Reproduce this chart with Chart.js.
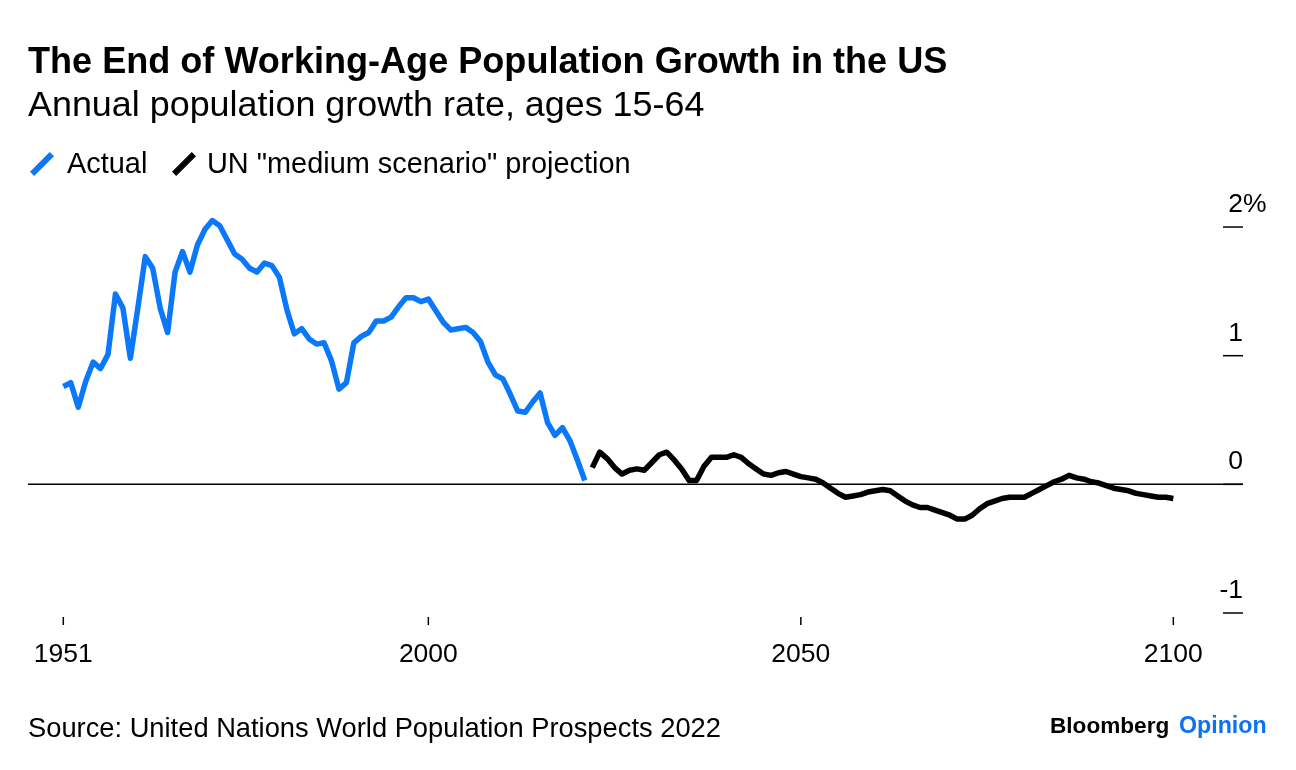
<!DOCTYPE html>
<html>
<head>
<meta charset="utf-8">
<script src="https://cdn.jsdelivr.net/npm/chart.js@4.4.1/dist/chart.umd.min.js"></script>
<style>
  html, body { margin: 0; padding: 0; background: #fff; }
  #wrap { position: relative; width: 1296px; height: 770px; overflow: hidden; font-family: "Liberation Sans", Arial, sans-serif; color: #000; }
  #wrap canvas { position: absolute; left: 0; top: 0; }
  .t { position: absolute; white-space: nowrap; line-height: 1; }
  .slash { position: absolute; width: 6px; height: 28px; transform: rotate(45deg); }
</style>
</head>
<body>
<div id="wrap">
  <canvas id="c" width="1296" height="770"></canvas>
  <div class="t" style="left:28px; top:43.4px; font-size:36.1px; font-weight:bold;">The End of Working-Age Population Growth in the US</div>
  <div class="t" style="left:28px; top:86.6px; font-size:35.9px;">Annual population growth rate, ages 15-64</div>
  <div class="slash" style="left:38.5px; top:149.5px; background:#0b78fa;"></div>
  <div class="t" style="left:67px; top:148.5px; font-size:28.9px;">Actual</div>
  <div class="slash" style="left:181px; top:149.5px; background:#000;"></div>
  <div class="t" style="left:207px; top:148.5px; font-size:28.9px;">UN "medium scenario" projection</div>
  <div class="t" style="left:28px; top:713.9px; font-size:27.3px;">Source: United Nations World Population Prospects 2022</div>
  <div class="t" style="left:1050px; top:714.5px; font-size:22.6px; font-weight:bold;">Bloomberg</div>
  <div class="t" style="left:1179px; top:714.0px; font-size:23.2px; font-weight:bold; color:#0b72f5;">Opinion</div>
</div>
<script>
// ---- Data ----
const actualStartYear = 1951;
const actualValues = [
  0.76, 0.79, 0.60, 0.80, 0.95, 0.90, 1.01, 1.48, 1.37, 0.98,
  1.37, 1.77, 1.68, 1.37, 1.18, 1.65, 1.81, 1.65, 1.86, 1.98,
  2.05, 2.01, 1.90, 1.79, 1.75, 1.68, 1.65, 1.72, 1.70, 1.61,
  1.36, 1.17, 1.21, 1.13, 1.09, 1.10, 0.96, 0.74, 0.79, 1.10,
  1.15, 1.18, 1.27, 1.27, 1.30, 1.38, 1.45, 1.45, 1.42, 1.44,
  1.35, 1.26, 1.20, 1.21, 1.22, 1.18, 1.11, 0.95, 0.85, 0.82,
  0.70, 0.57, 0.56, 0.64, 0.71, 0.48, 0.38, 0.44, 0.34, 0.19,
  0.03
];
const projectionStartYear = 2022;
const projectionValues = [
  0.13, 0.25, 0.20, 0.13, 0.08, 0.11, 0.12, 0.11, 0.17, 0.23,
  0.25, 0.19, 0.12, 0.03, 0.03, 0.14, 0.21, 0.21, 0.21, 0.23,
  0.21, 0.16, 0.12, 0.08, 0.07, 0.09, 0.10, 0.08, 0.06, 0.05,
  0.04, 0.01, -0.03, -0.07, -0.10, -0.09, -0.08, -0.06, -0.05, -0.04,
  -0.05, -0.09, -0.13, -0.16, -0.18, -0.18, -0.20, -0.22, -0.24, -0.27,
  -0.27, -0.24, -0.19, -0.15, -0.13, -0.11, -0.10, -0.10, -0.10, -0.07,
  -0.04, -0.01, 0.02, 0.04, 0.07, 0.05, 0.04, 0.02, 0.01, -0.01,
  -0.03, -0.04, -0.05, -0.07, -0.08, -0.09, -0.10, -0.10, -0.11
];
const xTickYears = [1951, 2000, 2050, 2100];
const yTickValues = [2, 1, 0, -1];
const yTickLabels = ["2", "1", "0", "-1"];

const actualPoints = actualValues.map((v, i) => ({ x: actualStartYear + i, y: v }));
const projectionPoints = projectionValues.map((v, i) => ({ x: projectionStartYear + i, y: v }));

const FONT = '"Liberation Sans", Arial, sans-serif';

const axesPlugin = {
  id: 'bbgAxes',
  beforeDatasetsDraw(chart) {
    const { ctx, chartArea, scales } = chart;
    const y0 = scales.y.getPixelForValue(0);
    ctx.save();
    ctx.strokeStyle = '#000';
    ctx.lineWidth = 1.5;
    ctx.beginPath();
    ctx.moveTo(chartArea.left, y0);
    ctx.lineTo(chartArea.right, y0);
    ctx.stroke();
    ctx.restore();
  },
  afterDraw(chart) {
    const { ctx, chartArea, scales } = chart;
    ctx.save();
    ctx.strokeStyle = '#000';
    ctx.fillStyle = '#000';
    ctx.lineWidth = 1.5;
    ctx.font = '26.5px ' + FONT;
    yTickValues.forEach((v, i) => {
      const py = scales.y.getPixelForValue(v);
      ctx.beginPath();
      ctx.moveTo(chartArea.right - 20, py);
      ctx.lineTo(chartArea.right, py);
      ctx.stroke();
      ctx.textAlign = 'right';
      ctx.textBaseline = 'alphabetic';
      ctx.fillText(yTickLabels[i], chartArea.right, py - 15);
      if (i === 0) {
        ctx.textAlign = 'left';
        ctx.fillText('%', chartArea.right, py - 15);
      }
    });
    const bottom = scales.y.getPixelForValue(-1);
    xTickYears.forEach(yr => {
      const px = scales.x.getPixelForValue(yr);
      ctx.beginPath();
      ctx.moveTo(px, bottom + 4);
      ctx.lineTo(px, bottom + 12);
      ctx.stroke();
      ctx.textAlign = 'center';
      ctx.textBaseline = 'alphabetic';
      ctx.fillText(String(yr), px, bottom + 48.7);
    });
    ctx.restore();
  }
};

new Chart(document.getElementById('c'), {
  type: 'line',
  data: {
    datasets: [
      {
        label: 'Actual',
        data: actualPoints,
        borderColor: '#0b78fa',
        borderWidth: 5.5,
        pointRadius: 0,
        tension: 0,
        borderJoinStyle: 'round',
        borderCapStyle: 'butt'
      },
      {
        label: 'UN "medium scenario" projection',
        data: projectionPoints,
        borderColor: '#000',
        borderWidth: 5.5,
        pointRadius: 0,
        tension: 0,
        borderJoinStyle: 'round',
        borderCapStyle: 'butt'
      }
    ]
  },
  options: {
    responsive: false,
    animation: false,
    devicePixelRatio: 1,
    layout: { padding: { left: 28, right: 53, top: 201.3, bottom: 157 } },
    plugins: { legend: { display: false }, tooltip: { enabled: false }, title: { display: false } },
    scales: {
      x: { type: 'linear', min: 1946.26, max: 2109.35, display: false },
      y: { type: 'linear', min: -1, max: 2.2, display: false }
    }
  },
  plugins: [axesPlugin]
});
</script>
</body>
</html>
